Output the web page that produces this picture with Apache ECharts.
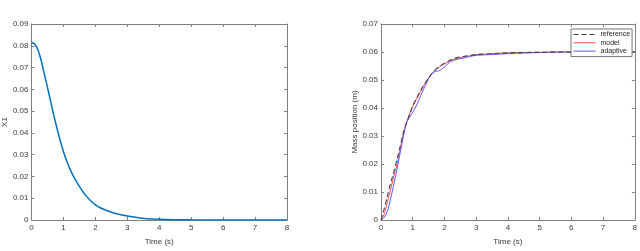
<!DOCTYPE html>
<html>
<head>
<meta charset="utf-8">
<script src="https://cdn.jsdelivr.net/npm/echarts@6/dist/echarts.min.js"></script>
<style>html,body{margin:0;padding:0;background:#fff;}#c{width:640px;height:251px;}</style>
</head>
<body>
<div id="c"></div>
<script>
// Left chart: X1 vs time
const x1Time = [0,0.1,0.2,0.3,0.4,0.5,0.6,0.7,0.8,0.9,1.0,1.1,1.2,1.3,1.4,1.5,1.6,1.7,1.8,1.9,2.0,2.2,2.4,2.6,2.8,3.0,3.3,3.6,4.0,4.5,5,6,7,8];
const x1Vals = [0.0815,0.0808,0.0782,0.0735,0.0672,0.061,0.0545,0.048,0.042,0.0365,0.0315,0.0272,0.0236,0.0205,0.0178,0.0154,0.0132,0.0113,0.0096,0.0082,0.007,0.0053,0.0041,0.0031,0.0024,0.0018,0.0011,0.0006,0.0003,0.00015,0.00007,0.00002,0,0];

// Right chart: mass position vs time
const posTime = [0,0.1,0.2,0.3,0.4,0.5,0.6,0.7,0.8,0.9,1.0,1.1,1.2,1.3,1.4,1.5,1.6,1.7,1.8,1.9,2.0,2.1,2.2,2.4,2.6,2.8,3.0,3.5,4,5,6,7,8];
const reference = [0,0.004,0.0085,0.013,0.017,0.0215,0.026,0.031,0.0345,0.0375,0.0408,0.043,0.0452,0.0472,0.049,0.0508,0.0522,0.0535,0.0545,0.0553,0.056,0.0566,0.0572,0.058,0.0584,0.0588,0.0591,0.0594,0.0597,0.0599,0.06,0.06,0.06];
const model = [0,0.002,0.0065,0.0108,0.0155,0.0198,0.025,0.0305,0.0348,0.0378,0.0405,0.0428,0.045,0.047,0.049,0.0507,0.0522,0.0534,0.0543,0.0551,0.0558,0.0564,0.057,0.0578,0.0582,0.0586,0.059,0.0594,0.0597,0.0599,0.06,0.06,0.06];
const adaptive = [0,0.0008,0.003,0.0075,0.0125,0.018,0.0237,0.0295,0.0345,0.0368,0.0385,0.0405,0.043,0.0457,0.048,0.0505,0.0522,0.053,0.0532,0.0537,0.0547,0.0557,0.0566,0.0574,0.0578,0.0584,0.0588,0.0591,0.0594,0.0598,0.06,0.06,0.06];

const xTicks = [0,1,2,3,4,5,6,7,8];
const leftYTicks = [0,0.01,0.02,0.03,0.04,0.05,0.06,0.07,0.08,0.09];
const rightYTicks = [0,0.01,0.02,0.03,0.04,0.05,0.06,0.07];

const zip = (a,b) => a.map((v,i)=>[v,b[i]]);
const font = 'Liberation Sans, Arial, sans-serif';
const txt = '#3a3a3a';
const axCol = '#808080';

function xAx(grid, pos, show) {
  return {type:'value', gridIndex:grid, position:pos, min:xTicks[0], max:xTicks[xTicks.length-1], interval:1,
    axisLine:{show:true, onZero:false, lineStyle:{color:axCol, width:1}},
    axisTick:{show:true, inside:true, length:3, lineStyle:{color:axCol}},
    axisLabel:{show:show, color:txt, fontSize:8, fontFamily:font, margin:4},
    splitLine:{show:false},
    name: show ? 'Time (s)' : '', nameLocation:'middle', nameGap:18,
    nameTextStyle:{color:txt, fontSize:8, fontFamily:font}};
}
function yAx(grid, pos, show, ticks, name) {
  return {type:'value', gridIndex:grid, position:pos, min:0, max:ticks[ticks.length-1], interval:0.01,
    axisLine:{show:true, onZero:false, lineStyle:{color:axCol, width:1}},
    axisTick:{show:true, inside:true, length:3, lineStyle:{color:axCol}},
    axisLabel:{show:show, color:txt, fontSize:8, fontFamily:font, margin:3,
      formatter: v => (Math.round(v*100)/100).toString()},
    splitLine:{show:false},
    name: show ? name : '', nameLocation:'middle', nameGap:22,
    nameTextStyle:{color:txt, fontSize:8, fontFamily:font}};
}

const chart = echarts.init(document.getElementById('c'), null, {renderer:'canvas'});
chart.setOption({
  animation:false,
  backgroundColor:'#fff',
  grid:[
    {left:30, top:24, width:257, height:202, show:false},
    {left:381, top:24, width:256, height:202, show:false}
  ],
  xAxis:[xAx(0,'bottom',true), xAx(0,'top',false), xAx(1,'bottom',true), xAx(1,'top',false)],
  yAxis:[yAx(0,'left',true,leftYTicks,'X1'), yAx(0,'right',false,leftYTicks,''), yAx(1,'left',true,rightYTicks,'Mass position (m)'), yAx(1,'right',false,rightYTicks,'')],
  legend:{
    data:['reference','model','adaptive'],
    left:571, top:29, orient:'vertical',
    itemWidth:22, itemHeight:8, itemGap:1.3,
    padding:[2,2,2,2],
    borderColor:'#777', borderWidth:1, backgroundColor:'#fff',
    itemStyle:{opacity:0, borderWidth:0},
    lineStyle:{width:1},
    textStyle:{color:'#222', fontSize:7, fontFamily:font}
  },
  series:[
    {name:'x1', type:'line', xAxisIndex:0, yAxisIndex:0, data:zip(x1Time,x1Vals), symbol:'none', smooth:0.3,
      lineStyle:{color:'#0072BD', width:1.5}},
    {name:'model', type:'line', xAxisIndex:2, yAxisIndex:2, data:zip(posTime,model), symbol:'none', smooth:0.3,
      itemStyle:{color:'#ff4d4d'}, lineStyle:{color:'#ff4d4d', width:1}},
    {name:'adaptive', type:'line', xAxisIndex:2, yAxisIndex:2, data:zip(posTime,adaptive), symbol:'none', smooth:0.3,
      itemStyle:{color:'#5a5aff'}, lineStyle:{color:'#5a5aff', width:1}},
    {name:'reference', type:'line', xAxisIndex:2, yAxisIndex:2, data:zip(posTime,reference), symbol:'none', smooth:0.3,
      itemStyle:{color:'#444'}, lineStyle:{color:'#444', width:1.1, type:[5,3]}}
  ]
});
</script>
</body>
</html>
